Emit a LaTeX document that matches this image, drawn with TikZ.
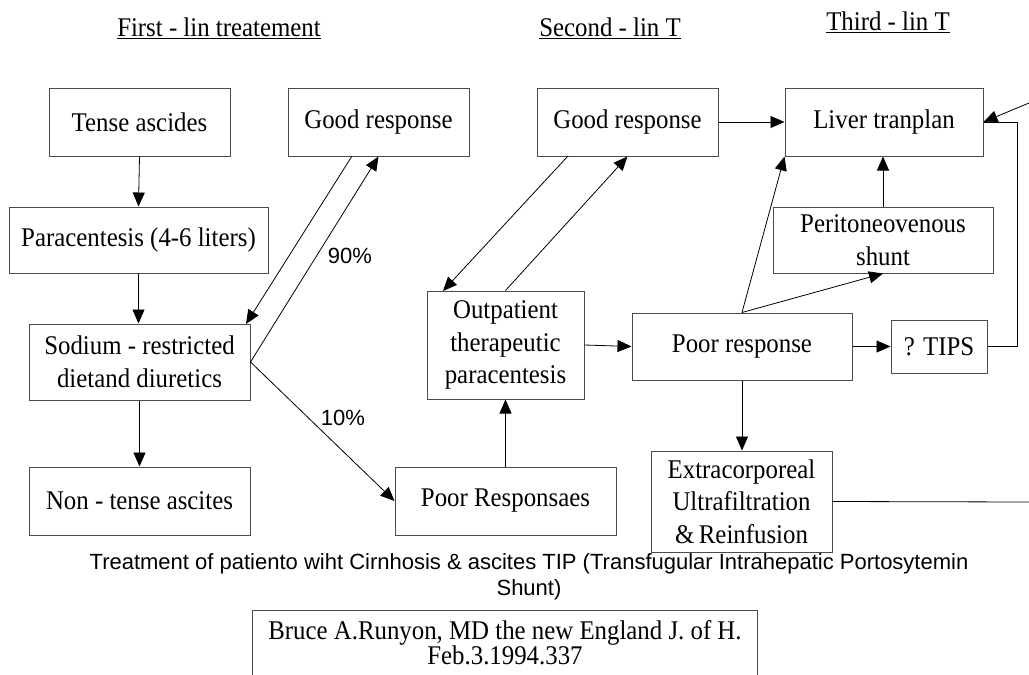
\documentclass[tikz,border=0pt]{standalone}
\usepackage{fontspec}
\setmainfont{Liberation Serif}[FakeStretch=0.92]
\newfontfamily\arialfont{Liberation Sans}
\usetikzlibrary{arrows.meta,calc}
\begin{document}
\begin{tikzpicture}[x=1pt,y=-1pt,
 box/.style={draw=black!70,line width=1pt,align=center,inner sep=0pt,font=\fontsize{27}{32.5}\selectfont},
 arr/.style={-{Triangle[length=14pt,width=12pt]},line width=0.8pt},
 plain/.style={line width=0.8pt},
 lab/.style={font=\arialfont\fontsize{22}{26}\selectfont,inner sep=0pt},
 head/.style={font=\fontsize{27}{30}\selectfont,inner sep=0pt}]
\useasboundingbox (0,0) rectangle (1029,675);

% headers
\node[head] (h1) at (219,28) {\underline{First - lin treatement}};
\node[head] (h2) at (610,28) {\underline{Second - lin T}};
\node[head] (h3) at (888,22) {\underline{Third - lin T}};

% boxes
\node[box,minimum width=181pt,minimum height=68pt] (tense) at (139.5,122) {Tense ascides};
\node[box,minimum width=181pt,minimum height=68pt] (good1) at (378.5,122) {Good response};
\node[box,minimum width=181pt,minimum height=68pt] (good2) at (627.5,122) {Good response};
\node[box,minimum width=198pt,minimum height=68pt] (liver) at (884,122) {Liver tranplan};
\node[box,minimum width=259pt,minimum height=66pt] (para) at (138.5,240) {Paracentesis (4-6 liters)};
\node[box,minimum width=220pt,minimum height=66pt] (perit) at (883,240) {Peritoneovenous\\shunt};
\node[box,minimum width=157pt,minimum height=108pt] (outp) at (505.5,345) {Outpatient\\therapeutic\\paracentesis};
\node[box,minimum width=221pt,minimum height=76pt] (sodium) at (139.5,362) {Sodium - restricted\\dietand diuretics};
\node[box,minimum width=220pt,minimum height=67pt] (poor) at (742,346.5) {Poor response};
\node[box,minimum width=96pt,minimum height=53pt] (tips) at (939,346.5) {? TIPS};
\node[box,minimum width=221pt,minimum height=68pt] (nontense) at (139.5,501) {Non - tense ascites};
\node[box,minimum width=221pt,minimum height=68pt] (poorr) at (505.5,501) {Poor Responsaes};
\node[box,minimum width=181pt,minimum height=101pt] (extra) at (741.5,501.5) {Extracorporeal\\Ultrafiltration\\\&\,Reinfusion};

% caption
\node[lab,align=center] (cap) at (529,577) {Treatment of patiento wiht Cirnhosis \& ascites TIP (Transfugular Intrahepatic Portosytemin\\Shunt)};

% reference box (open at the bottom)
\node[box,draw=none,minimum width=504pt,minimum height=64pt,font=\fontsize{27}{25}\selectfont] (ref) at (505,643) {Bruce A.Runyon, MD the new England J. of H.\\Feb.3.1994.337};
\draw[draw=black!70,line width=1pt] (ref.south west) -- (ref.north west) -- (ref.north east) -- (ref.south east);

% helper points
\coordinate (g1out) at (352,156);
\coordinate (sodin) at (246,324);
\coordinate (g2out) at (568,156);
\coordinate (outin) at (443,291);
\coordinate (corner) at (1017,122);
\coordinate (edgeA) at (1029,103);
\coordinate (edgeB) at (1029,502);

% connectors
\draw[arr] (tense.south) -- (para.north);
\draw[arr] (para.south) -- (sodium.north -| para.south);
\draw[arr] (sodium.south) -- (nontense.north);
\draw[arr] (sodium.east) -- (good1.south);
\draw[arr] (g1out) -- (sodin);
\draw[arr] (sodium.east) -- (poorr.west);
\draw[arr] (poorr.north) -- (outp.south);
\draw[arr] (outp.north) -- (good2.south);
\draw[arr] (g2out) -- (outin);
\draw[arr] (outp.east) -- (poor.west);
\draw[arr] (good2.east) -- (liver.west);
\draw[arr] (poor.north) -- (liver.south west);
\draw[arr] (poor.north) -- (perit.south);
\draw[arr] (perit.north) -- (liver.south -| perit.north);
\draw[arr] (poor.east) -- (tips.west);
\draw[arr] (poor.south) -- (extra.north -| poor.south);
\draw[plain] (tips.east) -| (corner) -- (liver.east);
\draw[arr] (edgeA) -- (liver.east);
\draw[plain] (extra.east) -- (edgeB);

% labels
\node[lab] (p90) at (350,256) {90\%};
\node[lab] (p10) at (343,418) {10\%};
\end{tikzpicture}
\end{document}
